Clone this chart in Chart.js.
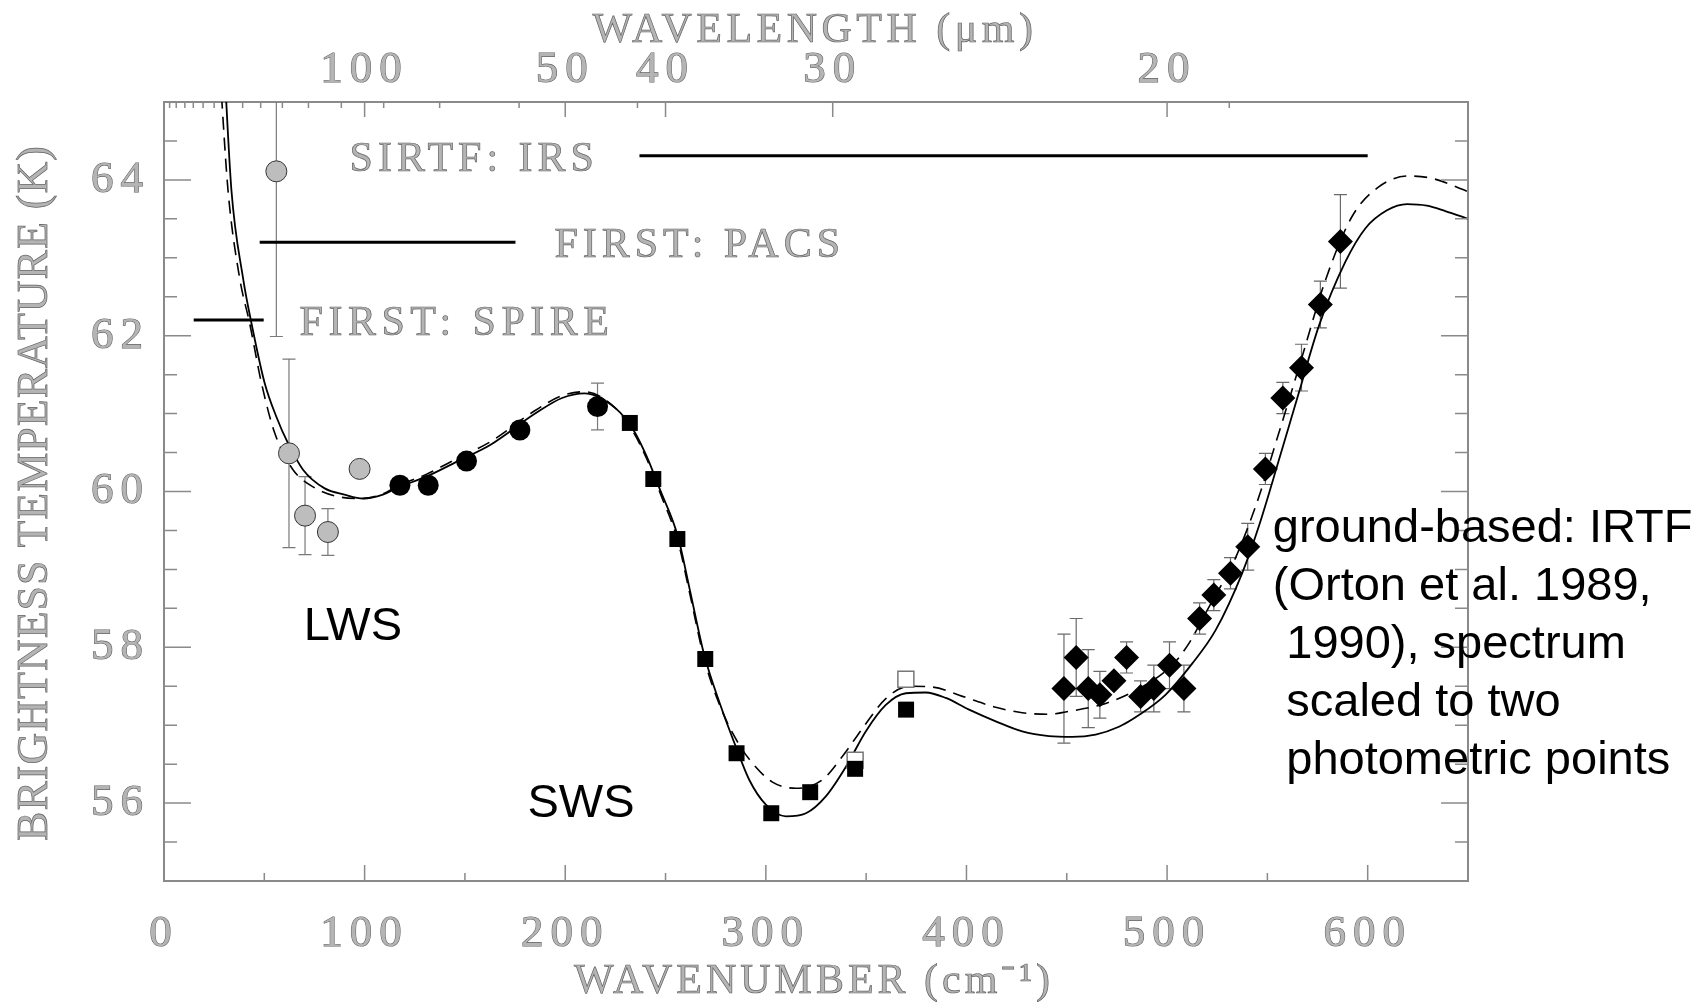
<!DOCTYPE html>
<html>
<head>
<meta charset="utf-8">
<title>Brightness temperature spectrum</title>
<script src="https://cdn.jsdelivr.net/npm/chart.js@4.4.1/dist/chart.umd.min.js"></script>
<style>
  html, body { margin: 0; padding: 0; background: #fff; }
  #wrap { width: 1705px; height: 1002px; position: relative; }
</style>
</head>
<body>
<div id="wrap"><canvas id="spectrumChart"></canvas></div>
<script>
// wavenumber (cm-1), brightness temperature (K), error (K)
var lwsGrayX = [56.0, 62.3, 70.3, 81.7, 97.5];
var lwsGrayY = [64.11, 60.49, 59.69, 59.48, 60.29];
var lwsGrayErr = [2.12, 1.21, 0.5, 0.3, 0];

var lwsX = [117.6, 131.7, 150.8, 177.4, 216.1];
var lwsY = [60.08, 60.08, 60.39, 60.79, 61.09];
var lwsErr = [0, 0, 0, 0, 0.3];

var swsX = [232.2, 243.9, 255.9, 269.8, 285.4, 302.7, 322.1, 344.5, 369.9];
var swsY = [60.88, 60.16, 59.39, 57.85, 56.64, 55.87, 56.14, 56.44, 57.20];
var swsOpenX = [344.5, 369.8];
var swsOpenY = [56.55, 57.59];

var irtfX = [448.6, 454.7, 460.7, 466.5, 473.5, 479.8, 486.8, 493.4, 501.2, 508.4,
             516.2, 523.3, 531.6, 540.2, 549.0, 557.7, 567.0, 576.4, 586.4];
var irtfY = [57.47, 57.87, 57.47, 57.39, 57.57, 57.87, 57.37, 57.47, 57.77, 57.47,
             58.37, 58.67, 58.95, 59.29, 60.29, 61.20, 61.59, 62.40, 63.21];
var irtfErr = [0.70, 0.50, 0.50, 0.30, 0, 0.20, 0.20, 0.30, 0.30, 0.30,
               0.20, 0.20, 0.20, 0.30, 0.20, 0.20, 0.30, 0.30, 0.60];

// model spectra (solid and dashed)
var modelX = [30, 33.6, 39.4, 43.6, 50.2, 56, 61.8, 69.3, 80.1, 90, 99.2, 109.1, 117.4, 130.7,
              147.3, 162.8, 185, 198.4, 209.5, 225, 234, 240.6, 247.3, 256.2, 262, 269.3, 277.6,
              285.1, 291.7, 300, 310, 320, 330, 340, 349.8, 359.8, 369.8, 379.7, 389.7, 401.3,
              414.6, 427.8, 441.1, 452.7, 464.4, 476, 486, 499.2, 512.5, 524.2, 537.4, 545.7,
              555.7, 565.6, 575.6, 588.9, 598.9, 609.6, 619.6, 629.5, 638.7, 650];
var modelY = [65.5, 63.87, 62.74, 62.16, 61.39, 60.96, 60.62, 60.28, 60.04, 59.96, 59.91, 59.96, 60.06, 60.19,
              60.40, 60.60, 61.00, 61.20, 61.26, 61.07, 60.79, 60.45, 60.02, 59.42, 58.75, 57.90, 57.24,
              56.72, 56.30, 55.98, 55.83, 55.87, 56.09, 56.47, 56.92, 57.26, 57.41, 57.42, 57.35, 57.20,
              57.05, 56.92, 56.86, 56.85, 56.88, 56.98, 57.13, 57.39, 57.79, 58.22, 58.95, 59.55,
              60.40, 61.26, 62.12, 62.95, 63.38, 63.61, 63.69, 63.67, 63.60, 63.50];

var model2X = [28, 31.9, 37.7, 42.7, 48.6, 55.2, 64.3, 74.3, 87.5, 99.2, 109.1, 117.4, 130.7, 147.3,
               162.8, 185, 198.4, 209.5, 225, 234, 240.6, 247.3, 256.2, 262, 269.3, 277.6, 286.7,
               293.4, 303.3, 315, 328.2, 338.2, 348.2, 359.8, 371.4, 383, 398, 414.6, 427.8, 441.1,
               449.4, 469.4, 486, 502.5, 510.9, 519.2, 527.5, 532.4, 544, 555.7, 567.3, 578.9,
               592.2, 605.5, 620.4, 632, 650];
var model2Y = [65.35, 63.87, 62.74, 62.16, 61.39, 60.75, 60.28, 60.06, 59.93, 59.91, 59.97, 60.08, 60.22, 60.44,
               60.64, 61.04, 61.23, 61.28, 61.07, 60.76, 60.42, 59.98, 59.36, 58.70, 57.85, 57.22, 56.75,
               56.51, 56.27, 56.19, 56.30, 56.60, 56.96, 57.34, 57.50, 57.49, 57.37, 57.23, 57.16, 57.14,
               57.17, 57.28, 57.47, 57.77, 58.05, 58.44, 58.82, 59.05, 59.80, 60.75, 61.73, 62.71,
               63.53, 63.91, 64.05, 64.02, 63.85];

// instrument coverage in cm-1 and the temperature level each bar sits at
var irsRange = [237, 600];
var pacsRange = [47.7, 175.2];
var spireRange = [14.8, 49.7];
var rangeLevels = [64.31, 63.20, 62.20];

// axis ticks
var xTicks = [0, 100, 200, 300, 400, 500, 600];
var xMinorTicks = [50, 150, 250, 350, 450, 550];
var yTicks = [56, 58, 60, 62, 64];
var yMinorTicks = [55.5, 56.5, 57, 57.5, 58.5, 59, 59.5, 60.5, 61, 61.5, 62.5, 63, 63.5, 64.5];
var wavelengthTicks = [100, 50, 40, 30, 20];   // micron, top axis
var topMinorTicks = [2.8, 6.1, 10.4, 14.6, 19.5, 25, 39.2, 48.2, 59, 72, 88.4, 109.5, 137.4, 177, 236, 531];

// text placed in data units (left edge, baseline)
var grayNotes = [
  { text: 'SIRTF: IRS', x: 92.5, y: 64.11, spacing: 5 },
  { text: 'FIRST: PACS', x: 194.6, y: 63.01, spacing: 5 },
  { text: 'FIRST: SPIRE', x: 67.6, y: 62.01, spacing: 5.5 }
];
var blackNotes = [
  { text: 'LWS', x: 69.6, y: 58.09 },
  { text: 'SWS', x: 181.2, y: 55.82 },
  { text: 'ground-based: IRTF', x: 552.7, y: 59.35 },
  { text: '(Orton et al. 1989,', x: 552.7, y: 58.61 },
  { text: '1990), spectrum', x: 559.4, y: 57.86 },
  { text: 'scaled to two', x: 559.4, y: 57.12 },
  { text: 'photometric points', x: 559.4, y: 56.37 }
];

var serif = '"Liberation Serif", "Times New Roman", serif';
var sans = '"Liberation Sans", Arial, sans-serif';
var grayFill = '#b4b4b4';
var grayEdge = '#626262';
var frameGray = '#8a8a8a';

function pairs(xs, ys) {
  return xs.map(function (x, i) { return { x: x, y: ys[i] }; });
}

// light grey letters with a thin darker outline, like the original lettering
function grayText(ctx, text, x, y, size, spacing, align) {
  ctx.save();
  ctx.font = size + 'px ' + serif;
  ctx.letterSpacing = spacing + 'px';
  ctx.textAlign = align || 'left';
  ctx.textBaseline = 'alphabetic';
  ctx.fillStyle = grayFill;
  ctx.fillText(text, x, y);
  ctx.lineWidth = 0.7;
  ctx.strokeStyle = grayEdge;
  ctx.strokeText(text, x, y);
  ctx.restore();
}

function drawErrorBars(chart, xs, ys, errs, color) {
  var ctx = chart.ctx, sx = chart.scales.x, sy = chart.scales.y, a = chart.chartArea;
  ctx.save();
  ctx.beginPath();
  ctx.rect(a.left, a.top, a.right - a.left, a.bottom - a.top);
  ctx.clip();
  ctx.strokeStyle = color;
  ctx.lineWidth = 1.2;
  ctx.beginPath();
  for (var i = 0; i < xs.length; i++) {
    if (!errs[i]) continue;
    var px = sx.getPixelForValue(xs[i]);
    var top = sy.getPixelForValue(ys[i] + errs[i]);
    var bot = sy.getPixelForValue(ys[i] - errs[i]);
    ctx.moveTo(px, top); ctx.lineTo(px, bot);
    ctx.moveTo(px - 6.5, top); ctx.lineTo(px + 6.5, top);
    ctx.moveTo(px - 6.5, bot); ctx.lineTo(px + 6.5, bot);
  }
  ctx.stroke();
  ctx.restore();
}

function tickMarks(ctx, scale, values, len, edge, a) {
  ctx.beginPath();
  values.forEach(function (v) {
    var p = scale.getPixelForValue(v);
    if (edge === 'bottom') { ctx.moveTo(p, a.bottom); ctx.lineTo(p, a.bottom - len); }
    if (edge === 'top') { ctx.moveTo(p, a.top); ctx.lineTo(p, a.top + len); }
    if (edge === 'left') { ctx.moveTo(a.left, p); ctx.lineTo(a.left + len, p); }
    if (edge === 'right') { ctx.moveTo(a.right, p); ctx.lineTo(a.right - len, p); }
  });
  ctx.stroke();
}

var frameAndNotes = {
  id: 'frameAndNotes',
  beforeDraw: function (chart) {
    chart.ctx.letterSpacing = '7px';
  },
  beforeDatasetsDraw: function (chart) {
    drawErrorBars(chart, lwsGrayX, lwsGrayY, lwsGrayErr, '#7a7a7a');
    drawErrorBars(chart, lwsX, lwsY, lwsErr, '#7a7a7a');
    drawErrorBars(chart, irtfX, irtfY, irtfErr, '#6a6a6a');
  },
  afterDraw: function (chart) {
    var ctx = chart.ctx, a = chart.chartArea;
    var sx = chart.scales.x, sy = chart.scales.y, sTop = chart.scales.xTop;

    // inward tick marks on all four sides
    ctx.save();
    ctx.strokeStyle = frameGray;
    ctx.lineWidth = 1.5;
    tickMarks(ctx, sx, xTicks, 16, 'bottom', a);
    tickMarks(ctx, sx, xMinorTicks, 8, 'bottom', a);
    tickMarks(ctx, sTop, wavelengthTicks.map(function (l) { return 10000 / l; }), 15, 'top', a);
    tickMarks(ctx, sTop, topMinorTicks, 6, 'top', a);
    tickMarks(ctx, sy, yTicks, 27, 'left', a);
    tickMarks(ctx, sy, yMinorTicks, 13, 'left', a);
    tickMarks(ctx, sy, yTicks, 27, 'right', a);
    tickMarks(ctx, sy, yMinorTicks, 13, 'right', a);
    ctx.restore();

    // axis titles
    grayText(ctx, 'WAVELENGTH (\u03bcm)', 815, 42, 42, 4.5, 'center');
    grayText(ctx, 'WAVENUMBER (cm\u207b\u00b9)', 814, 993, 42, 4, 'center');
    ctx.save();
    ctx.translate(47, 493);
    ctx.rotate(-Math.PI / 2);
    grayText(ctx, 'BRIGHTNESS TEMPERATURE (K)', 0, 0, 44, 1, 'center');
    ctx.restore();

    grayNotes.forEach(function (n) {
      grayText(ctx, n.text, sx.getPixelForValue(n.x), sy.getPixelForValue(n.y), 42, n.spacing, 'left');
    });

    ctx.save();
    ctx.letterSpacing = '0px';
    ctx.font = '47px ' + sans;
    ctx.fillStyle = '#000';
    ctx.textAlign = 'left';
    ctx.textBaseline = 'alphabetic';
    blackNotes.forEach(function (n) {
      ctx.fillText(n.text, sx.getPixelForValue(n.x), sy.getPixelForValue(n.y));
    });
    ctx.restore();
  }
};

var tickFont = { family: serif, size: 45 };

function rangeLine(range, level) {
  return {
    data: [{ x: range[0], y: level }, { x: range[1], y: level }],
    showLine: true, pointRadius: 0, borderColor: '#000', borderWidth: 3, order: 3
  };
}

var spectrumChart = new Chart(document.getElementById('spectrumChart').getContext('2d'), {
  type: 'scatter',
  data: {
    datasets: [
      { label: 'LWS (grey)', data: pairs(lwsGrayX, lwsGrayY), pointStyle: 'circle', pointRadius: 10.5,
        backgroundColor: '#bdbdbd', borderColor: '#333', borderWidth: 1, order: 1 },
      { label: 'LWS', data: pairs(lwsX, lwsY), pointStyle: 'circle', pointRadius: 10.5,
        backgroundColor: '#000', borderColor: '#000', borderWidth: 0, order: 1 },
      { label: 'SWS', data: pairs(swsX, swsY), pointStyle: 'rect', pointRadius: 11.3,
        backgroundColor: '#000', borderColor: '#000', borderWidth: 0, order: 1 },
      { label: 'SWS (open)', data: pairs(swsOpenX, swsOpenY), pointStyle: 'rect', pointRadius: 11.3,
        backgroundColor: '#fff', borderColor: '#777', borderWidth: 1.5, order: 2 },
      { label: 'IRTF', data: pairs(irtfX, irtfY), pointStyle: 'rectRot', pointRadius: 12.5,
        backgroundColor: '#000', borderColor: '#000', borderWidth: 0, order: 1 },
      { label: 'model', data: pairs(modelX, modelY), showLine: true, pointRadius: 0,
        borderColor: '#000', borderWidth: 1.8, cubicInterpolationMode: 'monotone', order: 4 },
      { label: 'model (dashed)', data: pairs(model2X, model2Y), showLine: true, pointRadius: 0,
        borderColor: '#000', borderWidth: 1.6, borderDash: [13, 8], cubicInterpolationMode: 'monotone', order: 4 },
      rangeLine(irsRange, rangeLevels[0]),
      rangeLine(pacsRange, rangeLevels[1]),
      rangeLine(spireRange, rangeLevels[2])
    ]
  },
  options: {
    responsive: true,
    maintainAspectRatio: false,
    animation: false,
    events: [],
    layout: { padding: 0 },
    plugins: { legend: { display: false }, tooltip: { enabled: false } },
    scales: {
      x: {
        type: 'linear', position: 'bottom', min: 0, max: 650,
        afterBuildTicks: function (s) { s.ticks = xTicks.map(function (v) { return { value: v }; }); },
        afterFit: function (s) { s.height = 121; },
        grid: { display: false },
        border: { display: true, color: frameGray, width: 2 },
        ticks: { font: tickFont, color: grayFill, textStrokeColor: grayEdge, textStrokeWidth: 1.1,
                 padding: 18, autoSkip: false, maxRotation: 0 }
      },
      xTop: {
        type: 'linear', position: 'top', min: 0, max: 650,
        afterBuildTicks: function (s) {
          s.ticks = wavelengthTicks.map(function (l) { return { value: 10000 / l }; });
        },
        afterFit: function (s) { s.height = 102; },
        grid: { display: false },
        border: { display: true, color: frameGray, width: 2 },
        ticks: { font: tickFont, color: grayFill, textStrokeColor: grayEdge, textStrokeWidth: 1.1,
                 padding: -3, autoSkip: false, maxRotation: 0,
                 callback: function (v) { return Math.round(10000 / v); } }
      },
      y: {
        type: 'linear', position: 'left', min: 55, max: 65,
        afterBuildTicks: function (s) { s.ticks = yTicks.map(function (v) { return { value: v }; }); },
        afterFit: function (s) { s.width = 164; },
        grid: { display: false },
        border: { display: true, color: frameGray, width: 2 },
        ticks: { font: tickFont, color: grayFill, textStrokeColor: grayEdge, textStrokeWidth: 1.1,
                 padding: 6, autoSkip: false }
      },
      yRight: {
        type: 'linear', position: 'right', min: 55, max: 65,
        afterFit: function (s) { s.width = 237; },
        grid: { display: false },
        border: { display: true, color: frameGray, width: 2 },
        ticks: { display: false }
      }
    }
  },
  plugins: [frameAndNotes]
});
</script>
</body>
</html>
